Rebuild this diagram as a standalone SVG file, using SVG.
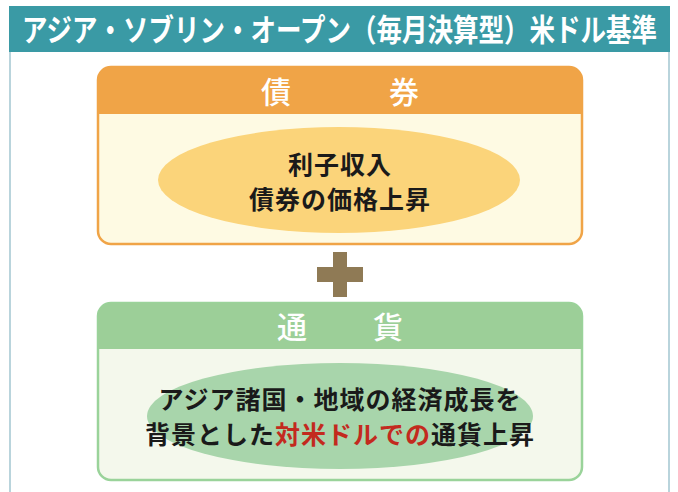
<svg xmlns="http://www.w3.org/2000/svg" width="678" height="492" viewBox="0 0 678 492">
<style>
  text { font-family: "Noto Sans CJK JP", "Noto Sans", sans-serif; }
  .title { fill: #ffffff; font-size: 25.5px; font-weight: 700; text-anchor: middle; }
  .hdr { fill: #ffffff; font-size: 30px; font-weight: 500; text-anchor: middle; }
  .body { fill: #1a1a1a; font-size: 25px; font-weight: 700; text-anchor: middle; letter-spacing: 1px; }
  .red { fill: #c32a1e; }
</style>
<rect x="0" y="0" width="678" height="492" fill="#ffffff"/>
<g id="frame">
  <line x1="10" y1="50" x2="10" y2="492" stroke="#b9d4dc" stroke-width="2"/>
  <line x1="669" y1="50" x2="669" y2="492" stroke="#b9d4dc" stroke-width="2"/>
  <rect x="9" y="6" width="661" height="46" fill="#3a9aa5"/>
  <text class="title" transform="translate(339.5,41) scale(1,1.22)" x="0" y="0">アジア・ソブリン・オープン（毎月決算型）米ドル基準</text>
</g>
<g id="bond">
  <rect x="98" y="67" width="484" height="177" rx="13" fill="#fefae3" stroke="#f0a447" stroke-width="2.5"/>
  <path d="M98 114 V80 A13 13 0 0 1 111 67 H569 A13 13 0 0 1 582 80 V114 Z" fill="#f0a447"/>
  <text class="hdr" x="276" y="103">債</text>
  <text class="hdr" x="404" y="103">券</text>
  <ellipse cx="339" cy="180" rx="181" ry="53" fill="#fbd47a"/>
  <text class="body" x="340" y="174">利子収入</text>
  <text class="body" x="340" y="209">債券の価格上昇</text>
</g>
<g id="plus">
  <rect x="333" y="252" width="14" height="45" fill="#8f7a55"/>
  <rect x="317" y="267" width="46" height="15" fill="#8f7a55"/>
</g>
<g id="currency">
  <rect x="98" y="303" width="484" height="177" rx="13" fill="#f4f8ec" stroke="#9ad39a" stroke-width="2.5"/>
  <path d="M98 349 V316 A13 13 0 0 1 111 303 H569 A13 13 0 0 1 582 316 V349 Z" fill="#9ccf98"/>
  <text class="hdr" x="292" y="338">通</text>
  <text class="hdr" x="388" y="338">貨</text>
  <ellipse cx="340" cy="416" rx="193" ry="53" fill="#a8d5ab"/>
  <text class="body" x="340" y="409">アジア諸国・地域の経済成長を</text>
  <text class="body" x="340" y="444">背景とした<tspan class="red">対米ドルでの</tspan>通貨上昇</text>
</g>
</svg>
